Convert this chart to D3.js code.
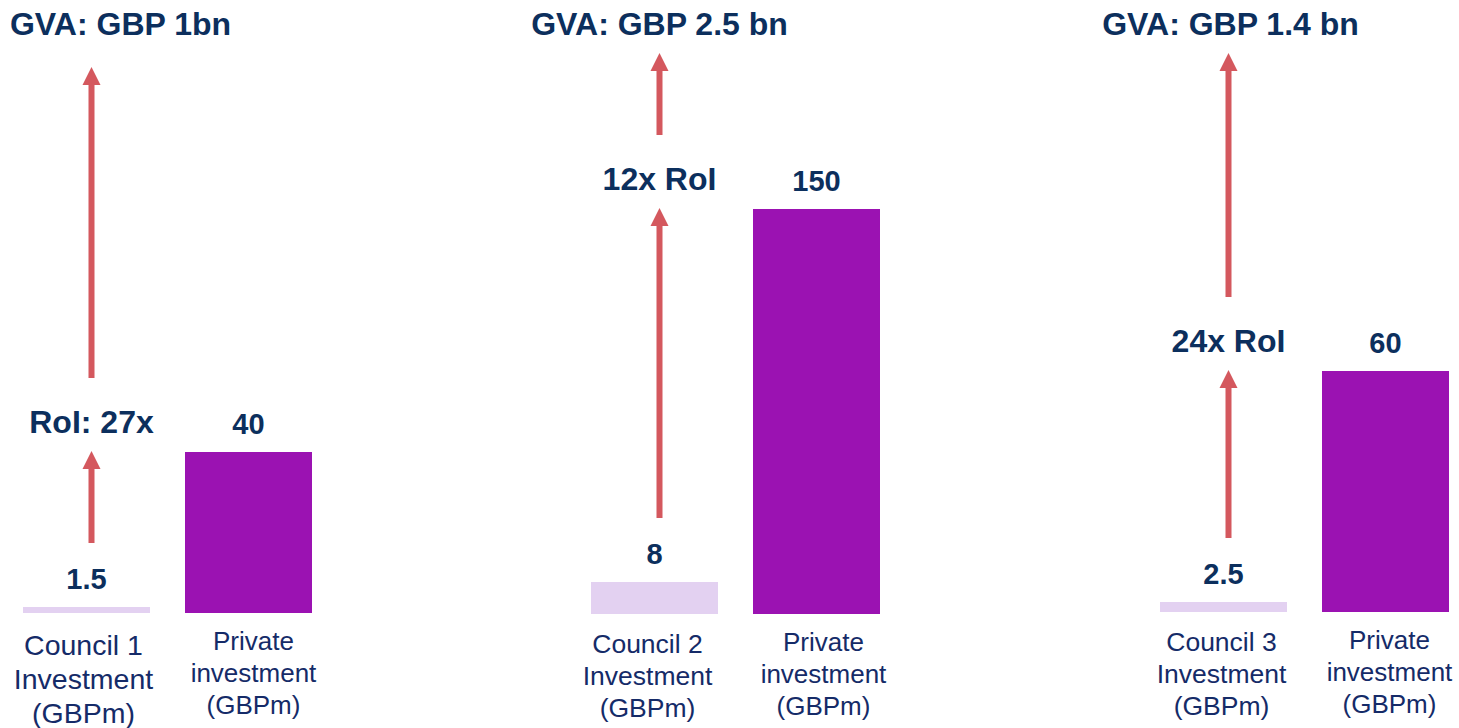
<!DOCTYPE html>
<html lang="en">
<head>
    <meta charset="UTF-8">
    <title>Council investment vs private investment</title>
    <script src="https://d3js.org/d3.v7.min.js"></script>
    <style>
        body { margin: 0; background: #fff; }
        svg { display: block; font-family: Arial, "Liberation Sans", sans-serif; }
    </style>
</head>
<body>
<svg id="chart"></svg>
<script>
    // chart values
    const councils = ["Council 1", "Council 2", "Council 3"];
    const councilInvestment = [1.5, 8, 2.5];
    const privateInvestment = [40, 150, 60];
    const roiLabels = ["RoI: 27x", "12x RoI", "24x RoI"];
    const gvaLabels = ["GVA: GBP 1bn", "GVA: GBP 2.5 bn", "GVA: GBP 1.4 bn"];
    const privateLines = ["Private", "investment", "(GBPm)"];

    const width = 1459;
    const height = 728;

    const navy = "#0c2f5d";
    const labelNavy = "#152b68";
    const arrowRed = "#d4585e";

    // per panel layout
    const panels = [
        {x0: 23, top: 452, base: 613, gvaDx: 29, councilFont: 28.5, councilLine: 34, councilDy: 42, tipTop: 67, cDx: -3, pDx: 5},
        {x0: 591, top: 209, base: 614, gvaDx: 0, councilFont: 26.5, councilLine: 32, councilDy: 39, tipTop: 53, cDx: -7, pDx: 7},
        {x0: 1160, top: 371, base: 612, gvaDx: 2, councilFont: 26.5, councilLine: 32, councilDy: 39, tipTop: 53, cDx: -2, pDx: 4}
    ];

    const svg = d3.select("#chart").attr("width", width).attr("height", height);

    // council bars share one small scale (px per GBPm)
    const councilScale = d3.scaleLinear().domain([0, 10]).range([0, 40]);

    function arrow(g, x, yTail, yTip) {
        const head = 18, half = 9, shaft = 3;
        g.append("path")
            .attr("d", `M${x - shaft},${yTail} L${x - shaft},${yTip + head} L${x - half},${yTip + head} L${x},${yTip} L${x + half},${yTip + head} L${x + shaft},${yTip + head} L${x + shaft},${yTail} Z`)
            .attr("fill", arrowRed);
    }

    panels.forEach(function(p, i) {
        const g = svg.append("g");

        const xScale = d3.scaleBand()
            .domain(["council", "private"])
            .range([p.x0, p.x0 + 289])
            .paddingInner(0.216)
            .paddingOuter(0);

        const yScale = d3.scaleLinear()
            .domain([0, privateInvestment[i]])
            .range([p.base, p.top]);

        const bars = [
            {key: "council", value: councilInvestment[i], y: p.base - councilScale(councilInvestment[i]), fill: "#e3d1f1"},
            {key: "private", value: privateInvestment[i], y: yScale(privateInvestment[i]), fill: "#9b12b2"}
        ];

        g.selectAll("rect.bar")
            .data(bars)
            .enter()
            .append("rect")
            .attr("class", "bar")
            .attr("x", d => xScale(d.key))
            .attr("y", d => d.y)
            .attr("width", xScale.bandwidth())
            .attr("height", d => p.base - d.y)
            .attr("fill", d => d.fill);

        g.selectAll("text.value")
            .data(bars)
            .enter()
            .append("text")
            .attr("class", "value")
            .attr("x", d => xScale(d.key) + xScale.bandwidth() / 2)
            .attr("y", d => d.y - 18)
            .attr("text-anchor", "middle")
            .attr("font-size", 29)
            .attr("font-weight", "bold")
            .attr("fill", navy)
            .text(d => d.value);

        // category labels
        const councilLines = [councils[i], "Investment", "(GBPm)"];
        const cx = xScale("council") + xScale.bandwidth() / 2;
        const px = xScale("private") + xScale.bandwidth() / 2;

        g.append("text")
            .attr("text-anchor", "middle")
            .attr("font-size", p.councilFont)
            .attr("fill", labelNavy)
            .selectAll("tspan")
            .data(councilLines)
            .enter()
            .append("tspan")
            .attr("x", cx + p.cDx)
            .attr("y", (d, j) => p.base + p.councilDy + j * p.councilLine)
            .text(d => d);

        g.append("text")
            .attr("text-anchor", "middle")
            .attr("font-size", 26)
            .attr("fill", labelNavy)
            .selectAll("tspan")
            .data(privateLines)
            .enter()
            .append("tspan")
            .attr("x", px + p.pDx)
            .attr("y", (d, j) => p.base + 37 + j * 32)
            .text(d => d);

        // arrows
        const ax = cx + 5;
        const privTop = yScale(privateInvestment[i]);
        const councilTop = p.base - councilScale(councilInvestment[i]);
        arrow(g, ax, councilTop - 64, privTop - 1);
        arrow(g, ax, privTop - 74, p.tipTop);

        g.append("text")
            .attr("x", ax)
            .attr("y", privTop - 19)
            .attr("text-anchor", "middle")
            .attr("font-size", 32)
            .attr("font-weight", "bold")
            .attr("fill", navy)
            .text(roiLabels[i]);

        g.append("text")
            .attr("x", ax + p.gvaDx)
            .attr("y", 35)
            .attr("text-anchor", "middle")
            .attr("font-size", 32)
            .attr("font-weight", "bold")
            .attr("fill", navy)
            .text(gvaLabels[i]);
    });
</script>
</body>
</html>
